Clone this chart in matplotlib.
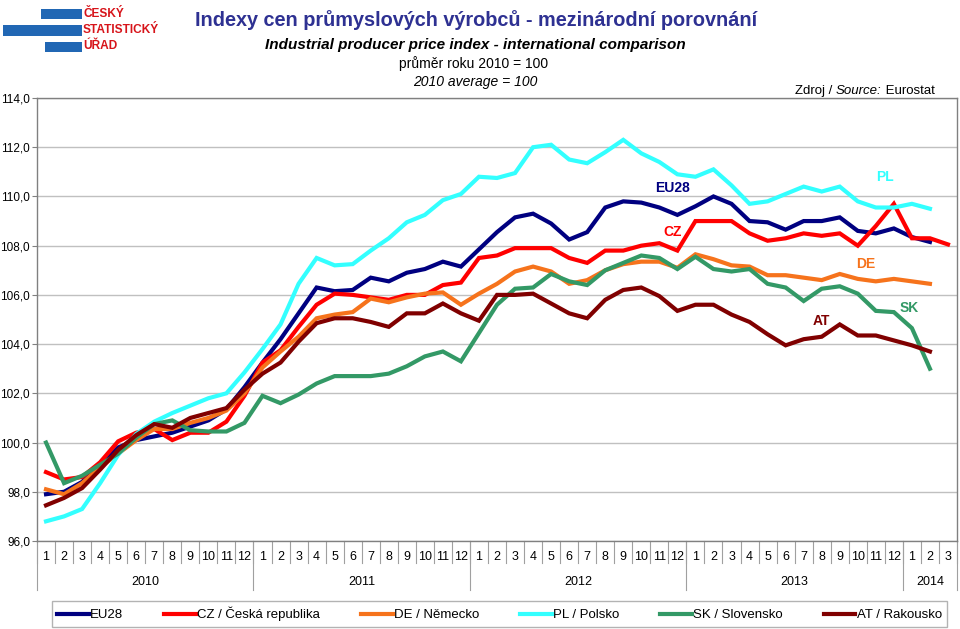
import matplotlib
matplotlib.use("Agg")
import matplotlib.pyplot as plt
from matplotlib.patches import Rectangle
import matplotlib.transforms as mtransforms

plt.rcParams['font.family'] = ['Liberation Sans', 'DejaVu Sans']

# monthly index values, 2010 average = 100 (Jan 2010 .. Feb/Mar 2014)
eu28 = [97.9, 98.0, 98.4, 99.1, 99.8, 100.1, 100.25, 100.4, 100.65, 100.9, 101.35, 102.25,
        103.25, 104.2, 105.25, 106.3, 106.15, 106.2, 106.7, 106.55, 106.9, 107.05, 107.35, 107.15,
        107.85, 108.55, 109.15, 109.3, 108.9, 108.25, 108.55, 109.55, 109.8, 109.75, 109.55, 109.25,
        109.6, 110.0, 109.7, 109.0, 108.95, 108.65, 109.0, 109.0, 109.15, 108.6, 108.5, 108.7,
        108.35, 108.15]
cz = [98.8, 98.5, 98.6, 99.2, 100.05, 100.4, 100.55, 100.1, 100.4, 100.4, 100.85, 101.9,
      103.25, 103.75, 104.7, 105.6, 106.05, 106.0, 105.9, 105.8, 106.0, 106.0, 106.4, 106.5,
      107.5, 107.6, 107.9, 107.9, 107.9, 107.5, 107.3, 107.8, 107.8, 108.0, 108.1, 107.8,
      109.0, 109.0, 109.0, 108.5, 108.2, 108.3, 108.5, 108.4, 108.5, 108.0, 108.8, 109.7,
      108.3, 108.3, 108.05]
de = [98.1, 97.9, 98.35, 99.0, 99.55, 100.1, 100.55, 100.55, 100.8, 101.0, 101.3, 102.0,
      103.05, 103.7, 104.3, 105.05, 105.2, 105.3, 105.85, 105.7, 105.9, 106.05, 106.1, 105.6,
      106.05, 106.45, 106.95, 107.15, 106.95, 106.45, 106.6, 107.0, 107.25, 107.35, 107.35, 107.1,
      107.65, 107.45, 107.2, 107.15, 106.8, 106.8, 106.7, 106.6, 106.85, 106.65, 106.55, 106.65,
      106.55, 106.45]
pl = [96.8, 97.0, 97.3, 98.35, 99.5, 100.35, 100.85, 101.2, 101.5, 101.8, 102.0, 102.85,
      103.8, 104.8, 106.45, 107.5, 107.2, 107.25, 107.8, 108.3, 108.95, 109.25, 109.85, 110.1,
      110.8, 110.75, 110.95, 112.0, 112.1, 111.5, 111.35, 111.8, 112.3, 111.75, 111.4, 110.9,
      110.8, 111.1, 110.45, 109.7, 109.8, 110.1, 110.4, 110.2, 110.4, 109.8, 109.55, 109.55,
      109.7, 109.5]
sk = [100.0, 98.35, 98.65, 99.1, 99.55, 100.2, 100.75, 100.9, 100.5, 100.45, 100.45, 100.8,
      101.9, 101.6, 101.95, 102.4, 102.7, 102.7, 102.7, 102.8, 103.1, 103.5, 103.7, 103.3,
      104.45, 105.6, 106.25, 106.3, 106.85, 106.55, 106.4, 107.0, 107.3, 107.6, 107.5, 107.05,
      107.55, 107.05, 106.95, 107.05, 106.45, 106.3, 105.75, 106.25, 106.35, 106.05, 105.35, 105.3,
      104.65, 103.0]
at = [97.45, 97.75, 98.15, 98.9, 99.7, 100.3, 100.75, 100.6, 101.0, 101.2, 101.4, 102.15,
      102.8, 103.25, 104.1, 104.85, 105.05, 105.05, 104.9, 104.7, 105.25, 105.25, 105.65, 105.25,
      104.95, 106.0, 106.0, 106.05, 105.65, 105.25, 105.05, 105.8, 106.2, 106.3, 105.95, 105.35,
      105.6, 105.6, 105.2, 104.9, 104.4, 103.95, 104.2, 104.3, 104.8, 104.35, 104.35, 104.15,
      103.95, 103.7]

years = ['2010', '2011', '2012', '2013', '2014']
months_per_year = [12, 12, 12, 12, 3]

series = [
    (eu28, 'EU28', 'EU28', '#000080'),
    (cz, 'CZ / Česká republika', 'CZ', '#FF0000'),
    (de, 'DE / Německo', 'DE', '#F6731C'),
    (pl, 'PL / Polsko', 'PL', '#33FFFF'),
    (sk, 'SK / Slovensko', 'SK', '#339966'),
    (at, 'AT / Rakousko', 'AT', '#800000'),
]
# position of the short tags inside the plot (month index, value)
tag_pos = {'EU28': (34.75, 110.36), 'CZ': (34.75, 108.54), 'PL': (46.5, 110.77),
           'DE': (45.45, 107.24), 'SK': (47.84, 105.45), 'AT': (43.0, 104.92)}

W, H = 960, 629
fig = plt.figure(figsize=(W / 100, H / 100), dpi=100)
ax = fig.add_axes([37 / W, 1 - 541 / H, (957 - 37) / W, (541 - 98) / H])

n_months = sum(months_per_year)
handles = []
for vals, label, tag, col in series:
    ln, = ax.plot(range(len(vals)), vals, color=col, lw=3, solid_joinstyle='miter',
                  label=label)
    handles.append(ln)
    tx, ty = tag_pos[tag]
    ax.text(tx, ty, tag, color=col, fontsize=10, fontweight='bold', ha='center', va='center')

ax.set_xlim(-0.5, n_months - 0.5)
ax.set_ylim(96, 114)
ax.set_yticks(range(96, 115, 2))
ax.set_yticklabels([f'{v:.1f}'.replace('.', ',') for v in range(96, 115, 2)], fontsize=8.5)
ax.set_xticks([])
ax.tick_params(axis='y', length=3.5, color='#808080', pad=1.5)
ax.grid(axis='y', color='#c0c0c0', lw=1)
ax.set_axisbelow(True)
for s in ax.spines.values():
    s.set_color('#808080')
    s.set_linewidth(1)

# category axis: months, then years
tr = mtransforms.blended_transform_factory(ax.transData, ax.transAxes)
px = 1 / (541 - 98)
for m in range(n_months):
    ax.text(m, -16 * px, str(m % 12 + 1), transform=tr, ha='center', va='center', fontsize=9)
for m in range(n_months + 1):
    ax.plot([m - 0.5, m - 0.5], [0, -22 * px], transform=tr, color='#a0a0a0', lw=0.8,
            clip_on=False)
start = 0
for yr, cnt in zip(years, months_per_year):
    ax.text(start + (cnt - 1) / 2, -41 * px, yr, transform=tr, ha='center', va='center',
            fontsize=9)
    ax.plot([start - 0.5, start - 0.5], [0, -49 * px], transform=tr, color='#a0a0a0', lw=0.8,
            clip_on=False)
    start += cnt
ax.plot([start - 0.5, start - 0.5], [0, -49 * px], transform=tr, color='#a0a0a0', lw=0.8,
        clip_on=False)

# titles
fig.text(476 / W, 1 - 20 / H, 'Indexy cen průmyslových výrobců - mezinárodní porovnání',
         ha='center', va='center', fontsize=14.3, fontweight='bold', color='#2E3192')
fig.text(475 / W, 1 - 45 / H, 'Industrial producer price index - international comparison',
         ha='center', va='center', fontsize=11, fontweight='bold', style='italic')
fig.text(474 / W, 1 - 64 / H, 'průměr roku 2010 = 100', ha='center', va='center', fontsize=10)
fig.text(475 / W, 1 - 82 / H, '2010 average = 100', ha='center', va='center', fontsize=10,
         style='italic')

# source note built from three pieces
renderer = fig.canvas.get_renderer()
x0 = 795
for part, st in [('Zdroj / ', 'normal'), ('Source:', 'italic'), (' Eurostat', 'normal')]:
    t = fig.text(x0 / W, 1 - 91 / H, part, ha='left', va='center', fontsize=9.5, style=st)
    x0 = t.get_window_extent(renderer).x1

# logo of the statistical office
blue = '#2167B4'
for (x1, y1, x2, y2) in [(41, 9, 82, 19), (3, 25, 82, 36), (45, 42, 82, 52)]:
    fig.add_artist(Rectangle((x1 / W, 1 - y2 / H), (x2 - x1) / W, (y2 - y1) / H,
                             transform=fig.transFigure, color=blue, lw=0))
for txt, yy in [('ČESKÝ', 14), ('STATISTICKÝ', 30), ('ÚŘAD', 46)]:
    fig.text(83 / W, 1 - yy / H, txt, ha='left', va='center', fontsize=8.6, fontweight='bold',
             color='#D7141A')

leg = fig.legend(handles=handles, loc='center', ncol=6, mode='expand',
                 bbox_to_anchor=(52 / W, 2 / H, 895 / W, 26 / H), borderaxespad=0,
                 fontsize=9.5, handlelength=2.4, handletextpad=0.1, frameon=True,
                 fancybox=False, edgecolor='#a0a0a0', borderpad=0.4)
leg.get_frame().set_linewidth(1)

fig.savefig('out.png', dpi=100)
